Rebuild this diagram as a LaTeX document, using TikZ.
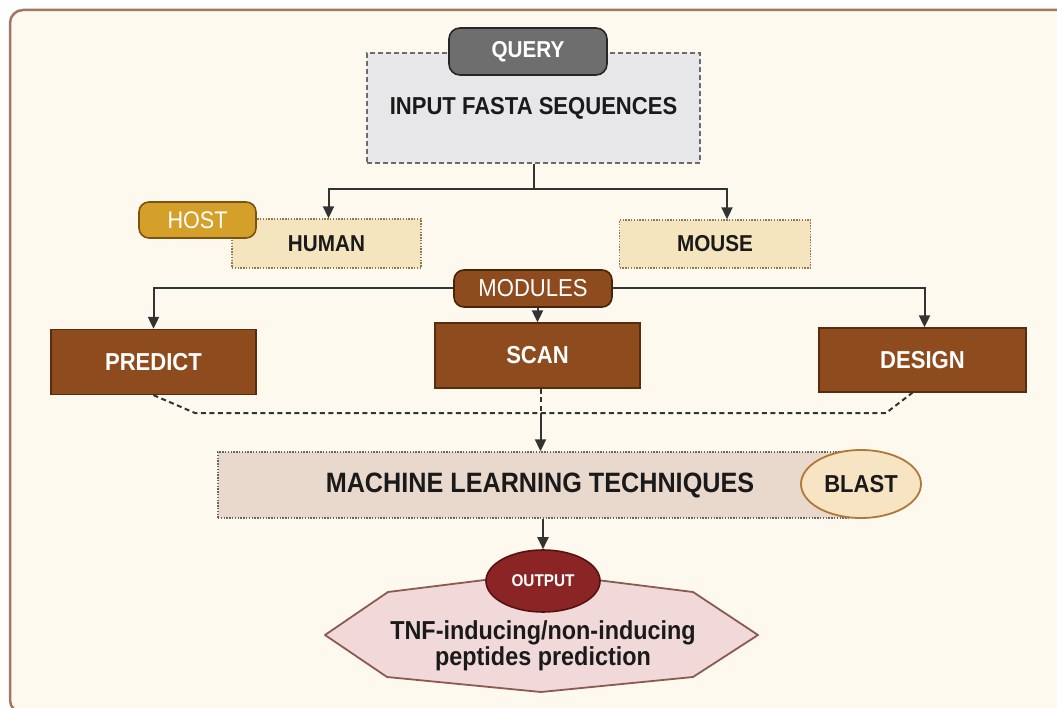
\documentclass[tikz,border=0pt]{standalone}
\usepackage{fontspec}
\setmainfont{Liberation Sans}[FakeStretch=0.9]
\usetikzlibrary{arrows.meta,shapes.geometric}

\definecolor{paperC}{HTML}{FDF9EE}
\definecolor{frameC}{HTML}{A27565}
\definecolor{queryC}{HTML}{6E6E6E}
\definecolor{inputC}{HTML}{E7E7E9}
\definecolor{hostC}{HTML}{D4A02A}
\definecolor{hostE}{HTML}{7A5212}
\definecolor{beigeC}{HTML}{F5E5BF}
\definecolor{beigeE}{HTML}{8C7A52}
\definecolor{brownC}{HTML}{8E4B1E}
\definecolor{brownE}{HTML}{5A2C0E}
\definecolor{mlC}{HTML}{E9D8CC}
\definecolor{blastC}{HTML}{F6E4C2}
\definecolor{blastE}{HTML}{B07838}
\definecolor{outC}{HTML}{8B2525}
\definecolor{outE}{HTML}{5A1010}
\definecolor{octC}{HTML}{F2D9D9}
\definecolor{octE}{HTML}{8B5A50}
\definecolor{lineC}{HTML}{333333}
\definecolor{inkC}{HTML}{1A1A1A}

\tikzset{
  tagbox/.style={rounded corners=11pt, line width=1.6pt, inner sep=0pt, text=white},
  stagebox/.style={fill=brownC, draw=brownE, line width=1.3pt, inner sep=0pt,
    text=white, font=\bfseries\fontsize{24.5}{28}\selectfont,
    minimum width=205pt, minimum height=65pt},
  hostbox/.style={fill=beigeC, draw=beigeE, line width=1.4pt,
    dash pattern=on 1.4pt off 1.4pt, inner sep=0pt, text=inkC,
    font=\bfseries\fontsize{23}{27}\selectfont},
  arr/.style={draw=lineC, line width=2pt, -{Triangle[length=12pt,width=11pt]}},
  link/.style={draw=lineC, line width=2pt},
  dlink/.style={draw=lineC, line width=2pt, dash pattern=on 5pt off 3.5pt},
}

\begin{document}
\begin{tikzpicture}[x=1pt,y=-1pt]
  \useasboundingbox (0,0) rectangle (1057,708);
  \fill[white] (0,0) rectangle (1057,708);

  % outer panel
  \draw[draw=frameC, line width=2.5pt, fill=paperC, rounded corners=13pt]
    (10,10) rectangle (1080,713);

  % query block
  \node (inp) [fill=inputC, draw=gray!85!black, line width=1.4pt,
    dash pattern=on 5pt off 3pt, minimum width=333pt, minimum height=110pt,
    inner sep=0pt, text=inkC, font=\bfseries\fontsize{24.5}{28}\selectfont]
    at (533.5,108) {INPUT FASTA SEQUENCES};
  \node (query) [tagbox, fill=queryC, draw=black!85, minimum width=158pt,
    minimum height=47pt, font=\bfseries\fontsize{23}{27}\selectfont]
    at (528,51.5) {QUERY};

  % hosts
  \node (human) [hostbox, minimum width=189pt, minimum height=49pt]
    at (326.5,243.5) {HUMAN};
  \node (host) [tagbox, rounded corners=10pt, fill=hostC, draw=hostE,
    minimum width=117pt, minimum height=36pt,
    font=\fontsize{24}{28}\selectfont] at (197.5,220) {HOST};
  \node (mouse) [hostbox, minimum width=191pt, minimum height=48pt]
    at (715,244) {MOUSE};

  % modules
  \node (modules) [tagbox, rounded corners=10pt, fill=brownC, draw=brownE!80!black,
    minimum width=158pt, minimum height=37pt,
    font=\fontsize{24.5}{28}\selectfont] at (533,288.5) {MODULES};
  \node (predict) [stagebox] at (153.5,362) {PREDICT};
  \node (scan)    [stagebox] at (537.5,355.5) {SCAN};
  \node (design)  [stagebox, minimum width=207pt, minimum height=64pt]
    at (922.5,360) {DESIGN};

  % machine learning block
  \node (ml) [fill=mlC, draw=gray!80!black, line width=1.4pt,
    dash pattern=on 1.4pt off 1.4pt, minimum width=632pt, minimum height=66pt,
    inner sep=0pt, text=inkC, font=\bfseries\fontsize{28}{32}\selectfont]
    at (534,485) {\hspace{12pt}MACHINE LEARNING TECHNIQUES};
  \node (blast) [ellipse, fill=blastC, draw=blastE, line width=1.8pt,
    minimum width=120pt, minimum height=68pt, inner sep=0pt, text=inkC,
    font=\bfseries\fontsize{24.5}{28}\selectfont] at (861,484) {BLAST};

  % result
  \draw[fill=octC, draw=octE, line width=1.8pt, line join=round]
    (325,635) -- (388,592) -- (541,573) -- (693,592) -- (758,635)
    -- (693,677) -- (541,692) -- (387,677) -- cycle;
  \node (result) [align=center, text=inkC, inner sep=0pt,
    font=\bfseries\fontsize{26}{25.5}\selectfont] at (543,646)
    {TNF-inducing/non-inducing\\peptides prediction};
  \node (output) [ellipse, fill=outC, draw=outE, line width=1.6pt,
    minimum width=114pt, minimum height=62pt, inner sep=0pt, text=white,
    font=\bfseries\fontsize{17}{20}\selectfont] at (543,581) {OUTPUT};

  % connectors
  \coordinate (split) at ([yshift=-25pt]inp.south);
  \draw[link] (inp.south) -- (split);
  \draw[arr] (split) -| ([xshift=2pt]human.north);
  \draw[arr] (split) -| ([xshift=12pt]mouse.north);

  \draw[arr] (modules.west) -| (predict.north);
  \draw[arr] (modules.east) -| ([xshift=2pt]design.north);
  \draw[arr] (scan.north |- modules.south) -- (scan.north);

  \coordinate (dl) at (195,413);
  \coordinate (dr) at (886,413);
  \draw[dlink] (predict.south) -- (dl) -- (dr) -- ([xshift=-10pt]design.south);
  \coordinate (mid) at ([xshift=3pt]scan.south |- dl);
  \draw[dlink] ([xshift=3pt]scan.south) -- (mid);
  \draw[arr] (mid) -- (mid |- ml.north);
  \draw[arr] (output.north |- ml.south) -- (output.north);
\end{tikzpicture}
\end{document}
